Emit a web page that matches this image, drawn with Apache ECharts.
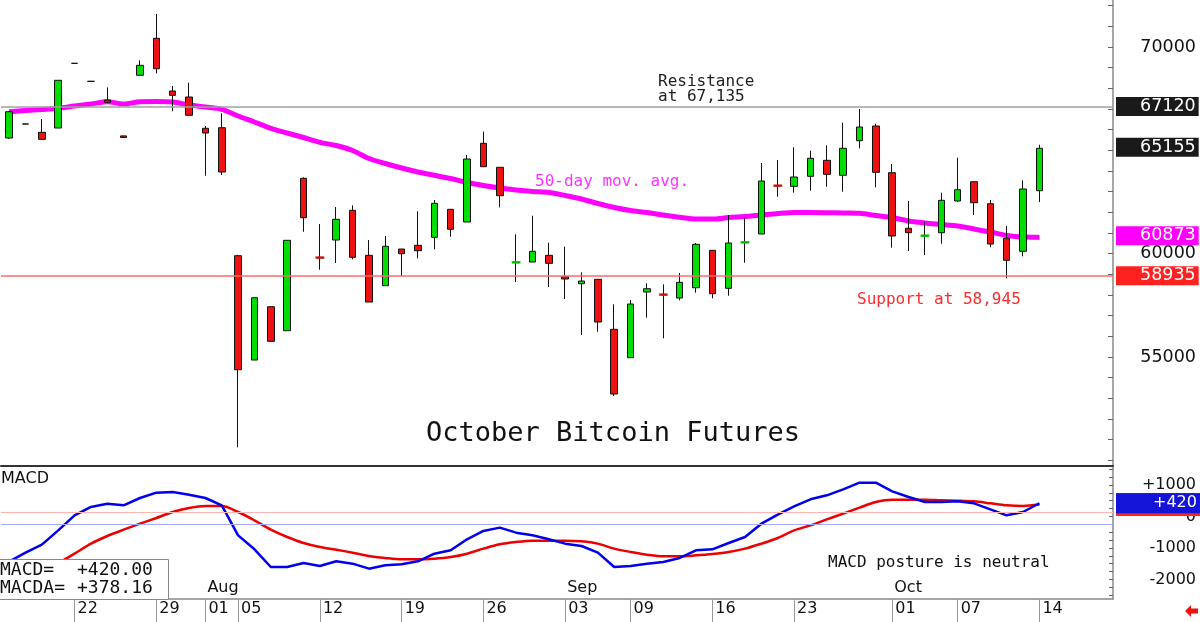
<!DOCTYPE html>
<html>
<head>
<meta charset="utf-8">
<title>October Bitcoin Futures</title>
<script src="https://cdn.jsdelivr.net/npm/echarts@6/dist/echarts.min.js"></script>
<style>
  html, body { margin: 0; padding: 0; background: #fff; }
  #chart { width: 1200px; height: 622px; }
</style>
</head>
<body>
<div id="chart"></div>
<script>
// trading days (plus a few empty days to the right of the last bar)
var dates = [
  '07-16','07-17','07-18','07-19','07-22','07-23','07-24','07-25','07-26','07-29','07-30','07-31',
  '08-01','08-02','08-05','08-06','08-07','08-08','08-09','08-12','08-13','08-14','08-15','08-16',
  '08-19','08-20','08-21','08-22','08-23','08-26','08-27','08-28','08-29','08-30',
  '09-03','09-04','09-05','09-06','09-09','09-10','09-11','09-12','09-13','09-16','09-17','09-18',
  '09-19','09-20','09-23','09-24','09-25','09-26','09-27','09-30',
  '10-01','10-02','10-03','10-04','10-07','10-08','10-09','10-10','10-11','10-14',
  '10-15','10-16','10-17','10-18'
];
var tickDates = ['07-22','07-29','08-01','08-05','08-12','08-19','08-26','09-03','09-09','09-16','09-23','10-01','10-07','10-14'];
var monthStarts = ['08-01','09-03','10-01'];
var monthNames = ['Aug','Sep','Oct'];

var opens = [
  65597,66275,65873,66081,69211,68340,67436,65700,68631,70421,67871,67581,
  66067,66096,59903,54857,57436,56275,63648,59830,60663,62100,59922,58452,
  60227,60406,60793,62148,61533,65341,64180,59563,59598,59922,
  58887,58548,58761,56342,54969,58147,58040,57857,58355,60164,58326,60531,
  60953,63310,63261,63744,64518,63793,65467,66178,
  63919,61229,60850,61016,62549,63483,62419,60745,60116,63048
];
var closes = [
  66870,66275,65535,68389,69211,68340,67325,65620,69115,68950,67663,66696,
  65839,63952,54388,57871,55762,60648,61741,59790,61664,59826,57663,60358,
  60000,60145,62438,61180,64581,64209,62806,59603,60116,59535,
  58776,58679,56695,53212,57567,58307,58000,58616,60454,58065,60518,60571,
  63517,63270,63711,64615,63841,65099,66130,63938,
  60856,61016,60890,62583,63096,62467,60469,59680,63130,65100
];
var lows = [
  65560,66275,65500,66081,69211,68340,67325,65600,68631,68728,66889,66696,
  63773,63807,50633,54857,55762,56275,61064,59226,59550,59729,57663,58452,
  58906,59777,60213,60822,61533,64209,62245,58631,59598,58389,
  57808,56066,56226,53115,54969,56904,55908,57746,58113,57842,57968,59564,
  60953,62758,62951,63048,63241,63000,65099,63212,
  60290,60130,59937,60484,62501,61872,60310,58809,59874,62501
];
var highs = [
  66900,66275,66517,68389,69211,68340,68050,65700,69357,71597,68113,68273,
  66178,66792,59950,57871,57436,60648,63700,61437,62259,62342,60663,60856,
  60227,62051,62598,62148,64775,65902,64180,60938,61838,60532,
  60338,59100,58761,57552,57760,58568,58520,59066,60518,60164,61872,61741,
  64388,64533,65147,64983,65244,66338,67000,66290,
  64339,62549,61548,62951,64644,63483,62598,61340,63551,65273
];
// 50-day moving average
var ma50 = [
  66870,66928,66976,67034,67146,67242,67354,67242,67354,67363,67339,67194,
  67097,66986,66662,66372,66067,65839,65622,65389,65235,64993,64606,64364,
  64146,63953,63793,63638,63444,63300,63178,63082,63009,62961,
  62816,62646,62429,62235,62090,61993,61872,61761,61679,61679,61751,61800,
  61872,61945,61993,61993,61984,61969,61955,61848,
  61751,61582,61485,61413,61340,61195,61050,60881,60808,60800
];
var macd = [
  -1430,-1149,-894,-439,37,302,407,354,587,757,778,693,
  587,354,-598,-1042,-1603,-1603,-1476,-1571,-1423,-1497,-1656,-1550,
  -1519,-1423,-1180,-1074,-725,-460,-354,-513,-598,-725,
  -862,-937,-1148,-1603,-1571,-1497,-1444,-1317,-1074,-1042,-841,-651,
  -228,58,323,545,672,862,1074,1074,
  799,619,460,460,481,418,228,37,143,420
];
var macda = [
  -2250,-2000,-1750,-1480,-1180,-862,-619,-418,-228,-48,143,270,
  333,333,143,-122,-418,-651,-841,-968,-1053,-1148,-1254,-1317,
  -1360,-1360,-1339,-1286,-1180,-1021,-884,-810,-767,-767,
  -767,-788,-862,-1021,-1127,-1212,-1265,-1265,-1233,-1190,-1127,-1021,
  -862,-683,-439,-281,-90,90,280,460,
  534,534,534,513,503,481,418,354,333,378
];

var resistanceLevel = 67120;
var supportLevel = 58935;
var lastClose = 65155;
var lastMa = 60873;
var macdLast = 420.00;
var macdaLast = 378.16;
var macdRefHigh = 150;
var macdRefLow = -240;

var priceTicks = [50000,51000,52000,53000,54000,55000,56000,57000,58000,59000,60000,61000,
  62000,63000,64000,65000,66000,67000,68000,69000,70000,71000,72000];
var priceLabels = [55000, 60000, 70000];
var macdTicks = [-2500,-2250,-2000,-1750,-1500,-1250,-1000,-750,-500,-250,0,250,500,750,1000,1250,1500];
var macdLabels = [1000, 0, -1000, -2000];

var UP = '#00dd00';
var DOWN = '#ee1111';
var SANS = 'DejaVu Sans';
var MONO = 'DejaVu Sans Mono';

var candleData = opens.map(function (o, i) {
  return [o, closes[i], lows[i], highs[i]];
});
// near-flat bars with a range get a coloured dash like the original
var dashData = opens.map(function (o, i) {
  var c = closes[i];
  if (highs[i] > lows[i] && Math.abs(c - o) < 60) {
    return { value: (o + c) / 2, itemStyle: { color: c > o ? UP : DOWN } };
  }
  return '-';
});

function tag(bg, size, padLeft, padBottom, signed) {
  return {
    show: true,
    position: 'end',
    distance: 3,
    formatter: function (p) {
      var v = Math.round(p.value);
      return signed && v > 0 ? '+' + v : String(v);
    },
    backgroundColor: bg,
    color: '#fff',
    opacity: 1,
    fontFamily: SANS,
    fontSize: size,
    lineHeight: 18,
    padding: [1, 3, padBottom, padLeft]
  };
}
var noLine = { color: 'rgba(255,255,255,0)', width: 1 };

var chart = echarts.init(document.getElementById('chart'), null, { renderer: 'canvas' });

var option = {
  animation: false,
  backgroundColor: '#fff',
  grid: [
    { left: 1, right: 87, top: 0, height: 466 },
    { left: 1, right: 87, top: 467, height: 132 }
  ],
  xAxis: [
    {
      gridIndex: 0, type: 'category', data: dates,
      axisLine: { onZero: false, lineStyle: { color: '#333', width: 2 } },
      axisTick: { show: false }, axisLabel: { show: false }, splitLine: { show: false }
    },
    {
      gridIndex: 1, type: 'category', data: dates, position: 'bottom',
      axisLine: { onZero: false, lineStyle: { color: '#888', width: 1.5 } },
      axisTick: {
        show: true, alignWithLabel: true, length: 23,
        interval: function (i, v) { return tickDates.indexOf(v) >= 0; },
        lineStyle: { color: '#999', width: 1 }
      },
      axisLabel: {
        interval: function (i, v) { return tickDates.indexOf(v) >= 0; },
        formatter: function (v) { return v.slice(3); },
        align: 'left', padding: [0, 0, 0, 3], margin: 2,
        color: '#111', fontFamily: SANS, fontSize: 16
      },
      splitLine: { show: false }
    },
    {
      gridIndex: 1, type: 'category', data: dates, position: 'bottom',
      axisLine: { show: false, onZero: false }, axisTick: { show: false },
      axisLabel: {
        inside: true,
        interval: function (i, v) { return monthStarts.indexOf(v) >= 0; },
        formatter: function (v) { return monthNames[monthStarts.indexOf(v)]; },
        align: 'left', padding: [0, 0, 0, 2], margin: 3,
        color: '#111', fontFamily: SANS, fontSize: 16
      },
      splitLine: { show: false }
    }
  ],
  yAxis: [
    {
      gridIndex: 0, type: 'value', position: 'right', min: 49730, max: 72274,
      splitLine: { show: false },
      axisLine: { show: true, lineStyle: { color: '#888', width: 1.5 } },
      axisTick: { show: true, inside: true, length: 5, customValues: priceTicks, lineStyle: { color: '#666' } },
      axisLabel: {
        customValues: priceLabels, align: 'right', margin: 83, color: '#111', fontFamily: SANS, fontSize: 17.5,
        formatter: function (v) { return String(v); }
      }
    },
    {
      gridIndex: 1, type: 'value', position: 'right', min: -2619, max: 1571,
      splitLine: { show: false },
      axisLine: { show: true, lineStyle: { color: '#888', width: 1.5 } },
      axisTick: { show: true, inside: true, length: 4, customValues: macdTicks, lineStyle: { color: '#666' } },
      axisLabel: {
        customValues: macdLabels, align: 'right', margin: 83, color: '#111', fontFamily: SANS, fontSize: 16,
        formatter: function (v) { return v > 0 ? '+' + v : String(v); }
      }
    }
  ],
  series: [
    {
      name: 'MA50', type: 'line', xAxisIndex: 0, yAxisIndex: 0, data: ma50,
      showSymbol: false, smooth: 0.3, z: 2,
      lineStyle: { color: '#ff00ff', width: 5 }
    },
    {
      name: 'Price', type: 'candlestick', xAxisIndex: 0, yAxisIndex: 0, data: candleData,
      barWidth: 7, z: 3,
      itemStyle: { color: UP, color0: DOWN, borderColor: '#111', borderColor0: '#111', borderWidth: 1 },
      markLine: {
        symbol: 'none', silent: true, animation: false,
        data: [
          { yAxis: resistanceLevel, lineStyle: { color: '#a0a0a0', width: 1.5, type: 'solid' }, label: tag('#1a1a1a', 17.5, 24, 0) },
          { yAxis: supportLevel, lineStyle: { color: '#ff6a6a', width: 1.5, type: 'solid' }, label: tag('#ff2020', 17.5, 24, 0) },
          { yAxis: lastClose, lineStyle: noLine, label: tag('#1a1a1a', 17.5, 24, 0) },
          { yAxis: lastMa, lineStyle: noLine, label: tag('#ff00ff', 17.5, 24, 0) }
        ]
      }
    },
    {
      name: 'Dash', type: 'scatter', xAxisIndex: 0, yAxisIndex: 0, data: dashData,
      symbol: 'rect', symbolSize: [9, 2.5], z: 4, silent: true
    },
    {
      name: 'MACDA', type: 'line', xAxisIndex: 1, yAxisIndex: 1, data: macda,
      showSymbol: false, smooth: 0.3, z: 3,
      lineStyle: { color: '#ee0000', width: 2.5 },
      markLine: {
        symbol: 'none', silent: true, animation: false,
        data: [
          { yAxis: macdRefHigh, lineStyle: { color: '#ffb4b4', width: 1, type: 'solid' }, label: { show: false } },
          { yAxis: macdRefLow, lineStyle: { color: '#a8a8ff', width: 1, type: 'solid' }, label: { show: false } },
          { yAxis: macdaLast, lineStyle: noLine, label: tag('#ff2020', 16, 37, 4, true) }
        ]
      }
    },
    {
      name: 'MACD', type: 'line', xAxisIndex: 1, yAxisIndex: 1, data: macd,
      showSymbol: false, z: 4,
      lineStyle: { color: '#0000ee', width: 2.5 },
      markLine: {
        symbol: 'none', silent: true, animation: false,
        data: [
          { yAxis: macdLast, lineStyle: noLine, label: tag('#1414d8', 16, 37, 1, true) }
        ]
      }
    }
  ],
  graphic: [
    { type: 'text', x: 658, y: 81.5, style: { text: 'Resistance', fontFamily: MONO, fontSize: 16, fill: '#222', verticalAlign: 'middle' } },
    { type: 'text', x: 658, y: 97, style: { text: 'at 67,135', fontFamily: MONO, fontSize: 16, fill: '#222', verticalAlign: 'middle' } },
    { type: 'text', x: 535, y: 182, style: { text: '50-day mov. avg.', fontFamily: MONO, fontSize: 16, fill: '#ff33ff', verticalAlign: 'middle' } },
    { type: 'text', x: 857, y: 300, style: { text: 'Support at 58,945', fontFamily: MONO, fontSize: 16, fill: '#ff2a2a', verticalAlign: 'middle' } },
    { type: 'text', x: 613, y: 433.5, style: { text: 'October Bitcoin Futures', fontFamily: MONO, fontSize: 27, fill: '#111', align: 'center', verticalAlign: 'middle' } },
    { type: 'text', x: 1, y: 478.5, style: { text: 'MACD', fontFamily: SANS, fontSize: 16, fill: '#111', verticalAlign: 'middle' } },
    { type: 'text', x: 828, y: 563, style: { text: 'MACD posture is neutral', fontFamily: MONO, fontSize: 16, fill: '#111', verticalAlign: 'middle' } },
    { type: 'rect', z: 10, shape: { x: -1, y: 559.5, width: 169.5, height: 40 }, style: { fill: '#fff', stroke: '#888', lineWidth: 1 } },
    { type: 'text', z: 11, x: 0, y: 570, style: { text: 'MACD=', fontFamily: MONO, fontSize: 18, fill: '#111', verticalAlign: 'middle' } },
    { type: 'text', z: 11, x: 77, y: 570, style: { text: '+' + macdLast.toFixed(2), fontFamily: MONO, fontSize: 18, fill: '#111', verticalAlign: 'middle' } },
    { type: 'text', z: 11, x: 0, y: 588.5, style: { text: 'MACDA=', fontFamily: MONO, fontSize: 18, fill: '#111', verticalAlign: 'middle' } },
    { type: 'text', z: 11, x: 77, y: 588.5, style: { text: '+' + macdaLast.toFixed(2), fontFamily: MONO, fontSize: 18, fill: '#111', verticalAlign: 'middle' } },
    {
      type: 'polygon', z: 11,
      shape: { points: [[1185, 611], [1191, 605], [1191, 608.5], [1198, 608.5], [1198, 613.5], [1191, 613.5], [1191, 617]] },
      style: { fill: '#ee1111' }
    }
  ]
};

chart.setOption(option);
window.onresize = chart.resize;
</script>
</body>
</html>
